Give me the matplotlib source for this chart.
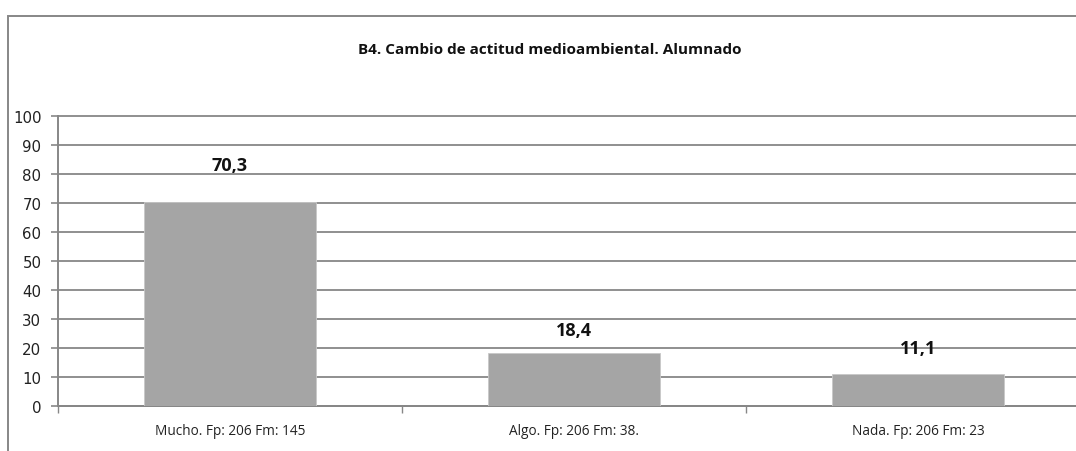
import matplotlib
matplotlib.use('Agg')
import matplotlib.pyplot as plt
from matplotlib.patches import Rectangle

categories = ['Mucho. Fp: 206 Fm: 145', 'Algo. Fp: 206 Fm: 38.', 'Nada. Fp: 206 Fm: 23']
values = [70.3, 18.4, 11.1]
value_labels = ['70,3', '18,4', '11,1']
yticks = [0, 10, 20, 30, 40, 50, 60, 70, 80, 90, 100]
title = 'B4. Cambio de actitud medioambiental. Alumnado'

W, H = 1076, 452
fig = plt.figure(figsize=(W / 100, H / 100), dpi=100)

grey = '#878787'
bar_color = '#a5a5a5'

# outer chart frame (cropped on right and bottom)
fig.patches.append(Rectangle((8 / W, -0.1), 1.2, 1 - 16.5 / H + 0.1,
                             transform=fig.transFigure, fill=False,
                             edgecolor=grey, linewidth=1.4))

# plot area runs past the right edge like in the source
ax = fig.add_axes([58 / W, 45 / H, 1032 / W, 290 / H])
x = list(range(len(categories)))
ax.bar(x, values, width=0.5, color=bar_color, edgecolor='#c8c8c8',
       linewidth=0.6, zorder=3)

ax.set_xlim(-0.5, 2.5)
ax.set_ylim(0, 100)
ax.set_yticks(yticks)
ax.set_yticklabels([str(v) for v in yticks], fontsize=10.8,
                   family='DejaVu Sans', color='#222222')
ax.yaxis.grid(True, color=grey, linewidth=1.3, zorder=0)
for gl in ax.yaxis.get_gridlines():
    gl.set_clip_on(False)
ax.set_axisbelow(True)

ax.set_xticks([-0.5, 0.5, 1.5, 2.5])
ax.set_xticklabels([])
ax.set_xticks(x, minor=True)
ax.set_xticklabels(categories, minor=True, fontsize=9.8,
                   family='Open Sans', color='#222222')
ax.tick_params(axis='x', which='minor', length=0, pad=12)
ax.tick_params(axis='x', which='major', length=5, color=grey, width=1)
ax.tick_params(axis='y', length=5, color=grey, width=1.2, pad=7)

for side in ['top', 'right']:
    ax.spines[side].set_visible(False)
for side in ['left', 'bottom']:
    ax.spines[side].set_color(grey)
    ax.spines[side].set_linewidth(1.4)

pads = [37, 23, 26]
for xi, v, lab, p in zip(x, values, value_labels, pads):
    ax.annotate(lab, (xi, v), xytext=(0, p * 0.72), textcoords='offset points',
                ha='center', va='center', fontsize=13, fontweight='bold',
                family='Open Sans', color='#111111', zorder=5)

fig.text(550 / W, 1 - 50 / H, title, ha='center', va='center',
         fontsize=11, fontweight='bold', family='Open Sans', color='#111111')

fig.savefig('out.png', dpi=100)
